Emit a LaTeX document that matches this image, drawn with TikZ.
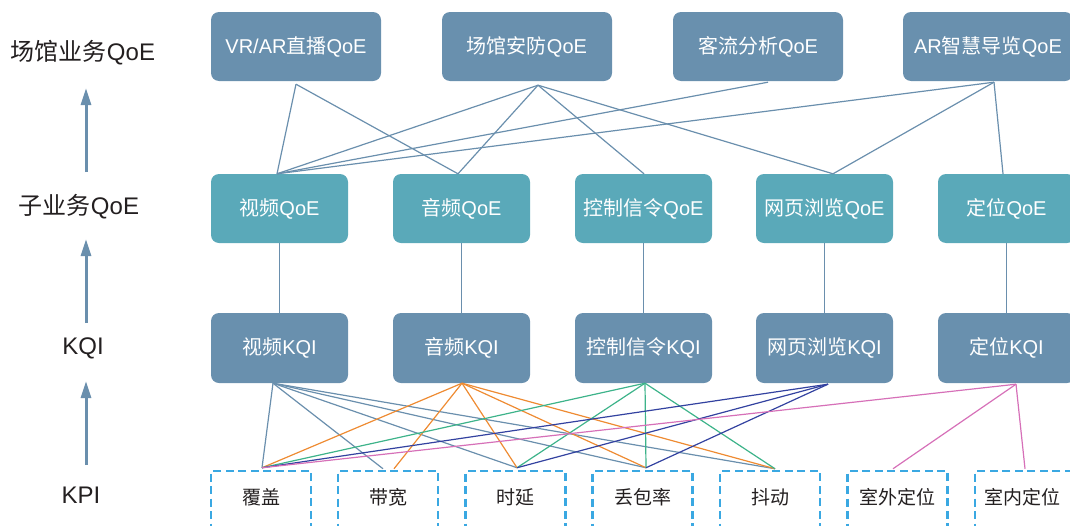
\documentclass[tikz,border=0pt]{standalone}
\usepackage{fontspec}
\setmainfont{Noto Sans CJK SC}
\newfontfamily\latfont{Liberation Sans}
\newcommand\latxt[1]{{\latfont #1}}
\usetikzlibrary{arrows.meta,calc}
\definecolor{sb}{HTML}{6990AE}
\definecolor{tl}{HTML}{5AA9B9}
\definecolor{cline}{HTML}{6A8FAD}
\definecolor{orng}{HTML}{EE8B32}
\definecolor{grn}{HTML}{3DB38A}
\definecolor{dblu}{HTML}{3342A0}
\definecolor{pnk}{HTML}{D670B8}
\definecolor{dashc}{HTML}{3AA8E2}
\definecolor{lbl}{HTML}{231F20}
\begin{document}
\begin{tikzpicture}[x=1pt,y=-1pt,
  topbox/.style={fill=sb, rounded corners=8pt, minimum width=170pt, minimum height=69pt, text=white, font=\fontsize{20}{20}\selectfont, inner sep=0pt},
  qoebox/.style={fill=tl, rounded corners=8pt, minimum width=137pt, minimum height=69pt, text=white, font=\fontsize{20}{20}\selectfont, inner sep=0pt},
  kqibox/.style={fill=sb, rounded corners=8pt, minimum width=137pt, minimum height=70pt, text=white, font=\fontsize{20}{20}\selectfont, inner sep=0pt},
  kpibox/.style={draw=dashc, line width=2.5pt, dash pattern=on 8pt off 4.5pt, minimum width=100pt, minimum height=60pt, inner sep=0pt},
  kpitext/.style={text=lbl, font=\fontsize{19}{19}\selectfont, inner sep=0pt},
  lvl/.style={text=lbl, font=\fontsize{24}{24}\selectfont, inner sep=0pt},
  uparrow/.style={draw=cline, line width=3pt, -{Triangle[width=10pt,length=17pt]}},
  conn/.style={draw=cline, line width=1.2pt},
  corange/.style={draw=orng, line width=1.2pt},
  cgreen/.style={draw=grn, line width=1.2pt},
  cblue/.style={draw=dblu, line width=1.2pt},
  cpink/.style={draw=pnk, line width=1.2pt}]
\useasboundingbox (0,0) rectangle (1070,525);

% left level labels
\node[lvl] (L1) at (83,53) {场馆业务\latxt{QoE}};
\node[lvl] (L2) at (79,207) {子业务\latxt{QoE}};
\node[lvl] (L3) at (83,348) {\latxt{KQI}};
\node[lvl] (L4) at (81,495) {\latxt{KPI}};
\coordinate (a1s) at (86,172); \coordinate (a1e) at (86,88);
\coordinate (a2s) at (86,323); \coordinate (a2e) at (86,239);
\coordinate (a3s) at (86,465); \coordinate (a3e) at (86,381);
\draw[uparrow] (a1s) -- (a1e);
\draw[uparrow] (a2s) -- (a2e);
\draw[uparrow] (a3s) -- (a3e);

% top row
\node[topbox] (t1) at (296,46.5) {\latxt{VR/AR}直播\latxt{QoE}};
\node[topbox] (t2) at (527,46.5) {场馆安防\latxt{QoE}};
\node[topbox] (t3) at (758,46.5) {客流分析\latxt{QoE}};
\node[topbox] (t4) at (988,46.5) {\latxt{AR}智慧导览\latxt{QoE}};

% sub-service QoE
\node[qoebox] (q1) at (279.5,208.5) {视频\latxt{QoE}};
\node[qoebox] (q2) at (461.5,208.5) {音频\latxt{QoE}};
\node[qoebox] (q3) at (643.5,208.5) {控制信令\latxt{QoE}};
\node[qoebox] (q4) at (824.5,208.5) {网页浏览\latxt{QoE}};
\node[qoebox] (q5) at (1006.5,208.5) {定位\latxt{QoE}};

% KQI
\node[kqibox] (k1) at (279.5,348) {视频\latxt{KQI}};
\node[kqibox] (k2) at (461.5,348) {音频\latxt{KQI}};
\node[kqibox] (k3) at (643.5,348) {控制信令\latxt{KQI}};
\node[kqibox] (k4) at (824.5,348) {网页浏览\latxt{KQI}};
\node[kqibox] (k5) at (1006.5,348) {定位\latxt{KQI}};

% KPI
\node[kpibox] (p1) at (261,501) {};
\node[kpibox] (p2) at (388,501) {};
\node[kpibox] (p3) at (515.5,501) {};
\node[kpibox] (p4) at (642.5,501) {};
\node[kpibox] (p5) at (770,501) {};
\node[kpibox] (p6) at (897.5,501) {};
\node[kpibox] (p7) at (1025,501) {};
\node[kpitext] (l1) at (261,497) {覆盖};
\node[kpitext] (l2) at (388,497) {带宽};
\node[kpitext] (l3) at (515.5,497) {时延};
\node[kpitext] (l4) at (642.5,497) {丢包率};
\node[kpitext] (l5) at (770,497) {抖动};
\node[kpitext] (l6) at (897.5,497) {室外定位};
\node[kpitext] (l7) at (1022,497) {室内定位};

% top-level connectors
\coordinate (t1s) at ($(t1.south)+(0,3)$);
\coordinate (t2s) at ($(t2.south)+(11,4)$);
\coordinate (t3s) at ($(t3.south)+(10,1)$);
\coordinate (t4s) at ($(t4.south)+(6,1)$);
\coordinate (q1n) at ($(q1.north)+(-2.5,0)$);
\coordinate (q2n) at ($(q2.north)+(-3.5,0)$);
\coordinate (q3n) at ($(q3.north)+(0.5,0)$);
\coordinate (q4n) at ($(q4.north)+(8.5,0)$);
\coordinate (q5n) at ($(q5.north)+(-3.5,0)$);
\draw[conn] (t1s) -- (q1n);
\draw[conn] (t1s) -- (q2n);
\draw[conn] (t2s) -- (q1n);
\draw[conn] (t2s) -- (q2n);
\draw[conn] (t2s) -- (q3n);
\draw[conn] (t2s) -- (q4n);
\draw[conn] (t3s) -- (q1n);
\draw[conn] (t4s) -- (q1n);
\draw[conn] (t4s) -- (q4n);
\draw[conn] (t4s) -- (q5n);

% QoE to KQI
\foreach \i in {1,...,5} { \draw[conn] (q\i.south) -- (k\i.north); }

% KQI to KPI
\coordinate (k1s) at ($(k1.south)+(-6.5,0)$);
\coordinate (k2s) at ($(k2.south)+(0.5,0)$);
\coordinate (k3s) at ($(k3.south)+(1.5,0)$);
\coordinate (k4s) at ($(k4.south)+(3.5,1)$);
\coordinate (k5s) at ($(k5.south)+(9.5,1)$);
\coordinate (e1) at ($(p1.north)+(1,-2)$);
\coordinate (e2a) at ($(p2.north)+(-5,-1)$);
\coordinate (e2b) at ($(p2.north)+(6,-1)$);
\coordinate (e3) at ($(p3.north)+(1.5,-2)$);
\coordinate (e4) at ($(p4.north)+(3.5,-2)$);
\coordinate (e5) at ($(p5.north)+(5,-1)$);
\coordinate (e6) at ($(p6.north)+(-4.5,-1)$);
\coordinate (e7) at ($(p7.north)+(0,-1)$);
\foreach \e in {e1,e2a,e3,e4,e5} { \draw[conn] (k1s) -- (\e); }
\foreach \e in {e1,e2b,e3,e4,e5} { \draw[corange] (k2s) -- (\e); }
\foreach \e in {e1,e3,e4,e5} { \draw[cgreen] (k3s) -- (\e); }
\foreach \e in {e1,e3,e4} { \draw[cblue] (k4s) -- (\e); }
\foreach \e in {e1,e6,e7} { \draw[cpink] (k5s) -- (\e); }
\end{tikzpicture}
\end{document}
